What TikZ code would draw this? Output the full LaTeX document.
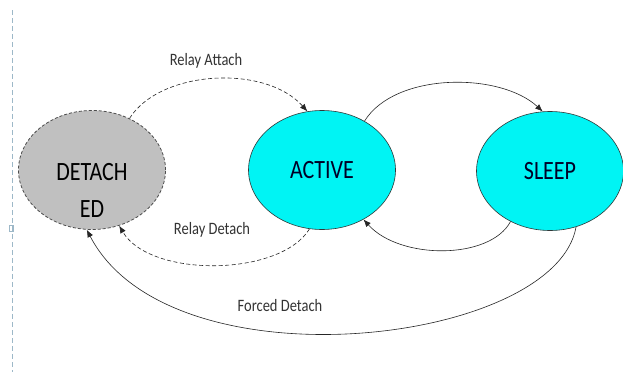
\documentclass[tikz,border=0pt]{standalone}
\usepackage{fontspec}
\setmainfont{Carlito}
\usetikzlibrary{shapes.geometric,arrows.meta}
\definecolor{cyanfill}{HTML}{00F4F4}
\definecolor{grayfill}{HTML}{C0C0C0}
\definecolor{edgeline}{HTML}{303838}
\definecolor{guide}{HTML}{9DB8C8}
\newcommand{\tallt}[1]{\scalebox{1}[1.2]{#1}}
\tikzset{
  state/.style={ellipse, draw=edgeline, line width=0.6pt, minimum width=147pt, minimum height=119pt, inner sep=0pt, font=\fontsize{22}{24}\selectfont, text=black!85!blue, align=center},
  active/.style={state, fill=cyanfill},
  detstate/.style={state, fill=grayfill, draw=black!70, densely dashed, line width=0.8pt, text=black},
  stext/.style={font=\fontsize{22}{24}\selectfont, text=black, align=center, inner sep=0pt},
  trans/.style={draw=black!85, line width=0.6pt, -{Latex[length=7.5pt,width=6pt]}},
  dtrans/.style={trans, dashed, dash pattern=on 4pt off 2.5pt},
  lbl/.style={font=\fontsize{14.5}{16}\selectfont, text=black!80, inner sep=0pt}
}
\begin{document}
\begin{tikzpicture}[x=1pt,y=-1pt]
\useasboundingbox (0,0) rectangle (623,372);
\fill[white] (0,0) rectangle (623,372);
% left guide
\draw[guide, dashed, dash pattern=on 5pt off 3pt, line width=0.6pt] (12,10) -- (12,372);
\draw[guide, line width=0.6pt] (9,225) rectangle (13,231);
% states
\node[detstate] (det) at (92,170) {};
\node[stext] (dett) at (92,190) {\tallt{DETACH}\\[13pt]\tallt{ED}};
\node[active] (act) at (322,170) {\tallt{ACTIVE}};
\node[active] (slp) at (550,171) {\tallt{SLEEP}};
% transitions
\draw[dtrans] (det.54) .. controls (160,70) and (265,64) .. (act.104);
\draw[dtrans] (act.258) .. controls (280,277) and (150,278) .. (det.296);
\draw[trans] (act.49) .. controls (395,72) and (500,72) .. (slp.97);
\draw[trans] (slp.232) .. controls (490,260) and (400,260) .. (act.310);
\draw[trans] (slp.295) .. controls (555,345) and (170,390) .. (det.265);
% labels
\node[lbl] (l1) at (206,61) {\tallt{Relay Attach}};
\node[lbl] (l2) at (212,230) {\tallt{Relay Detach}};
\node[lbl] (l3) at (280,306) {\tallt{Forced Detach}};
\end{tikzpicture}
\end{document}
